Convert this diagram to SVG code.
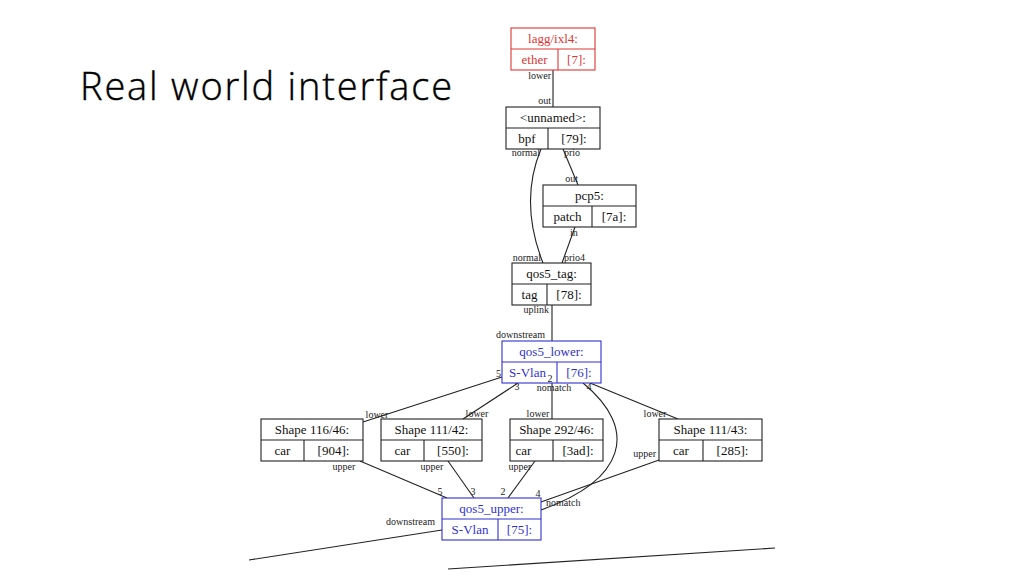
<svg xmlns="http://www.w3.org/2000/svg" width="1024" height="576" viewBox="0 0 1024 576">
<style>
.t{font-family:"Liberation Serif","Times New Roman",serif;font-size:13px;text-anchor:middle}
.l{font-family:"Liberation Serif","Times New Roman",serif;font-size:10px;fill:#222}
.e{text-anchor:end}
.m{text-anchor:middle}
.k rect,.k line{fill:#fff;stroke:#222;stroke-width:1.1}
.k text{fill:#111}
.r rect,.r line{fill:#fff;stroke:#e03535;stroke-width:1.1}
.r text{fill:#e03535}
.b rect,.b line{fill:#fff;stroke:#3030d0;stroke-width:1.1}
.b text{fill:#3030d0}
.c path{fill:none;stroke:#222;stroke-width:1.1}
</style>
<rect width="1024" height="576" fill="#fff"/>
<text x="80" y="100" font-family="Open Sans, Liberation Sans, sans-serif" font-weight="300" font-size="38" textLength="372" fill="#000" stroke="#000" stroke-width="0.4">Real world interface</text>
<g class="c" id="connectors">
<path d="M553,70 L553,107"/>
<path d="M541,149 C524,190 530,230 543,263"/>
<path d="M563,149 L578,185"/>
<path d="M575,227 L562,263"/>
<path d="M552,305 L552,341"/>
<path d="M502,377 L363,422"/>
<path d="M518,383 L463,419"/>
<path d="M552,383 L552,419"/>
<path d="M590,383 L678,419"/>
<path d="M583,383 C640,430 625,480 541,510"/>
<path d="M360,461 L447,498"/>
<path d="M448,461 L474,498"/>
<path d="M535,461 L508,498"/>
<path d="M659,460 L541,502"/>
<path d="M442,530 L249,560"/>
<path d="M448,569 L775,548"/>
</g>
<g id="labels">
<text class="l e" x="551" y="79">lower</text>
<text class="l e" x="551" y="104">out</text>
<text class="l e" x="540" y="156">normal</text>
<text class="l" x="564" y="156">prio</text>
<text class="l e" x="578" y="182">out</text>
<text class="l" x="570" y="236">in</text>
<text class="l e" x="541" y="261">normal</text>
<text class="l" x="564" y="261">prio4</text>
<text class="l e" x="549" y="313">uplink</text>
<text class="l e" x="545" y="338">downstream</text>
<text class="l e" x="501" y="377">5</text>
<text class="l m" x="517" y="390">3</text>
<text class="l m" x="554" y="391">nomatch</text>
<text class="l m" x="589" y="390">4</text>
<text class="l m" x="377" y="418">lower</text>
<text class="l m" x="477" y="417">lower</text>
<text class="l m" x="538" y="417">lower</text>
<text class="l m" x="655" y="417">lower</text>
<text class="l m" x="344" y="470">upper</text>
<text class="l m" x="432" y="470">upper</text>
<text class="l m" x="520" y="470">upper</text>
<text class="l e" x="656" y="457">upper</text>
<text class="l m" x="440" y="495">5</text>
<text class="l m" x="473" y="495">3</text>
<text class="l m" x="503" y="495">2</text>
<text class="l m" x="538" y="497">4</text>
<text class="l" x="546" y="506">nomatch</text>
<text class="l e" x="435" y="525">downstream</text>
</g>
<g id="lagg" class="r">
<rect x="511" y="28" width="84" height="42"/><line x1="511" y1="49" x2="595" y2="49"/><line x1="558" y1="49" x2="558" y2="70"/>
<text class="t" x="553" y="43">lagg/ixl4:</text><text class="t" x="534.5" y="64">ether</text><text class="t" x="576.5" y="64">[7]:</text>
</g>
<g id="unnamed" class="k">
<rect x="506" y="107" width="94" height="42"/><line x1="506" y1="128" x2="600" y2="128"/><line x1="548" y1="128" x2="548" y2="149"/>
<text class="t" x="553" y="122">&lt;unnamed&gt;:</text><text class="t" x="527" y="143">bpf</text><text class="t" x="574" y="143">[79]:</text>
</g>
<g id="pcp5" class="k">
<rect x="543" y="185" width="93" height="42"/><line x1="543" y1="206" x2="636" y2="206"/><line x1="592" y1="206" x2="592" y2="227"/>
<text class="t" x="589.5" y="200">pcp5:</text><text class="t" x="567.5" y="221">patch</text><text class="t" x="614" y="221">[7a]:</text>
</g>
<g id="qos5_tag" class="k">
<rect x="512" y="263" width="79" height="42"/><line x1="512" y1="284" x2="591" y2="284"/><line x1="547" y1="284" x2="547" y2="305"/>
<text class="t" x="551.5" y="278">qos5_tag:</text><text class="t" x="529.5" y="299">tag</text><text class="t" x="569" y="299">[78]:</text>
</g>
<g id="qos5_lower" class="b">
<rect x="502" y="341" width="99" height="42"/><line x1="502" y1="362" x2="601" y2="362"/><line x1="557" y1="362" x2="557" y2="383"/>
<text class="t" x="551.5" y="356">qos5_lower:</text><text class="t" x="527.5" y="377">S-Vlan</text><text class="t" x="579" y="377">[76]:</text>
</g>
<text class="l m" x="550" y="382">2</text>
<g id="shape116" class="k">
<rect x="261" y="419" width="102" height="42"/><line x1="261" y1="440" x2="363" y2="440"/><line x1="304" y1="440" x2="304" y2="461"/>
<text class="t" x="312" y="434">Shape 116/46:</text><text class="t" x="282.5" y="455">car</text><text class="t" x="333.5" y="455">[904]:</text>
</g>
<g id="shape111_42" class="k">
<rect x="381" y="419" width="101" height="42"/><line x1="381" y1="440" x2="482" y2="440"/><line x1="424" y1="440" x2="424" y2="461"/>
<text class="t" x="431.5" y="434">Shape 111/42:</text><text class="t" x="402.5" y="455">car</text><text class="t" x="453" y="455">[550]:</text>
</g>
<g id="shape292" class="k">
<rect x="510" y="419" width="93" height="42"/><line x1="510" y1="440" x2="603" y2="440"/><line x1="553" y1="440" x2="553" y2="461"/>
<text class="t" x="556.5" y="434">Shape 292/46:</text><text class="t" x="523.5" y="455">car</text><text class="t" x="578" y="455">[3ad]:</text>
</g>
<g id="shape111_43" class="k">
<rect x="659" y="419" width="103" height="42"/><line x1="659" y1="440" x2="762" y2="440"/><line x1="703" y1="440" x2="703" y2="461"/>
<text class="t" x="710.5" y="434">Shape 111/43:</text><text class="t" x="681" y="455">car</text><text class="t" x="732.5" y="455">[285]:</text>
</g>
<g id="qos5_upper" class="b">
<rect x="442" y="498" width="99" height="42"/><line x1="442" y1="519" x2="541" y2="519"/><line x1="498" y1="519" x2="498" y2="540"/>
<text class="t" x="491.5" y="513">qos5_upper:</text><text class="t" x="470" y="534">S-Vlan</text><text class="t" x="519.5" y="534">[75]:</text>
</g>
</svg>
